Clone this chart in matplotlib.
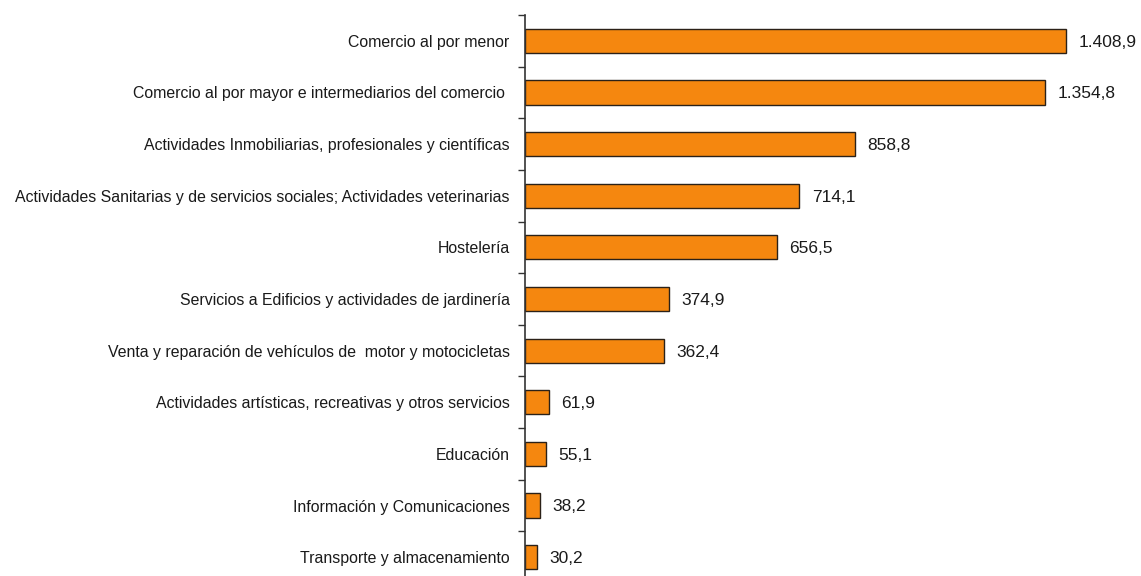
import matplotlib.pyplot as plt
import numpy as np

sectores = [
    "Comercio al por menor",
    "Comercio al por mayor e intermediarios del comercio ",
    "Actividades Inmobiliarias, profesionales y científicas",
    "Actividades Sanitarias y de servicios sociales; Actividades veterinarias",
    "Hostelería",
    "Servicios a Edificios y actividades de jardinería",
    "Venta y reparación de vehículos de  motor y motocicletas",
    "Actividades artísticas, recreativas y otros servicios",
    "Educación",
    "Información y Comunicaciones",
    "Transporte y almacenamiento",
]
valores = [1408.9, 1354.8, 858.8, 714.1, 656.5, 374.9, 362.4, 61.9, 55.1, 38.2, 30.2]


def fmt_es(v):
    s = f"{v:,.1f}"
    return s.replace(",", "X").replace(".", ",").replace("X", ".")


plt.rcParams['font.family'] = ['Liberation Sans', 'DejaVu Sans']

W, H = 1141, 576
fig = plt.figure(figsize=(W / 100, H / 100), dpi=100)
x0, ytop, ybot = 525, 15, 583
ax = fig.add_axes([x0 / W, 1 - ybot / H, (W - x0) / W, (ybot - ytop) / H])

y = np.arange(len(sectores))
ax.barh(y, valores, height=0.47, color='#F5870F', edgecolor='#2b2118', linewidth=1.0)

for yi, v in zip(y, valores):
    ax.annotate(fmt_es(v), (v, yi), xytext=(9, -1), textcoords='offset points',
                ha='left', va='center', fontsize=12.5, color='#1a1a1a')

ax.set_ylim(len(sectores) - 0.5, -0.5)
ax.set_xlim(0, (W - x0) / 0.384)

ax.set_yticks(y)
ax.set_yticklabels(sectores, fontsize=11.4, color='#1a1a1a')
ax.tick_params(axis='y', which='major', length=0, pad=11)
ax.set_yticks(np.arange(-0.5, len(sectores), 1), minor=True)
ax.tick_params(axis='y', which='minor', length=5, width=1, color='#333333', direction='out')

ax.set_xticks([])
for side in ['top', 'right', 'bottom']:
    ax.spines[side].set_visible(False)
ax.spines['left'].set_color('#333333')
ax.spines['left'].set_linewidth(1.2)

fig.savefig('out.png', dpi=100)
